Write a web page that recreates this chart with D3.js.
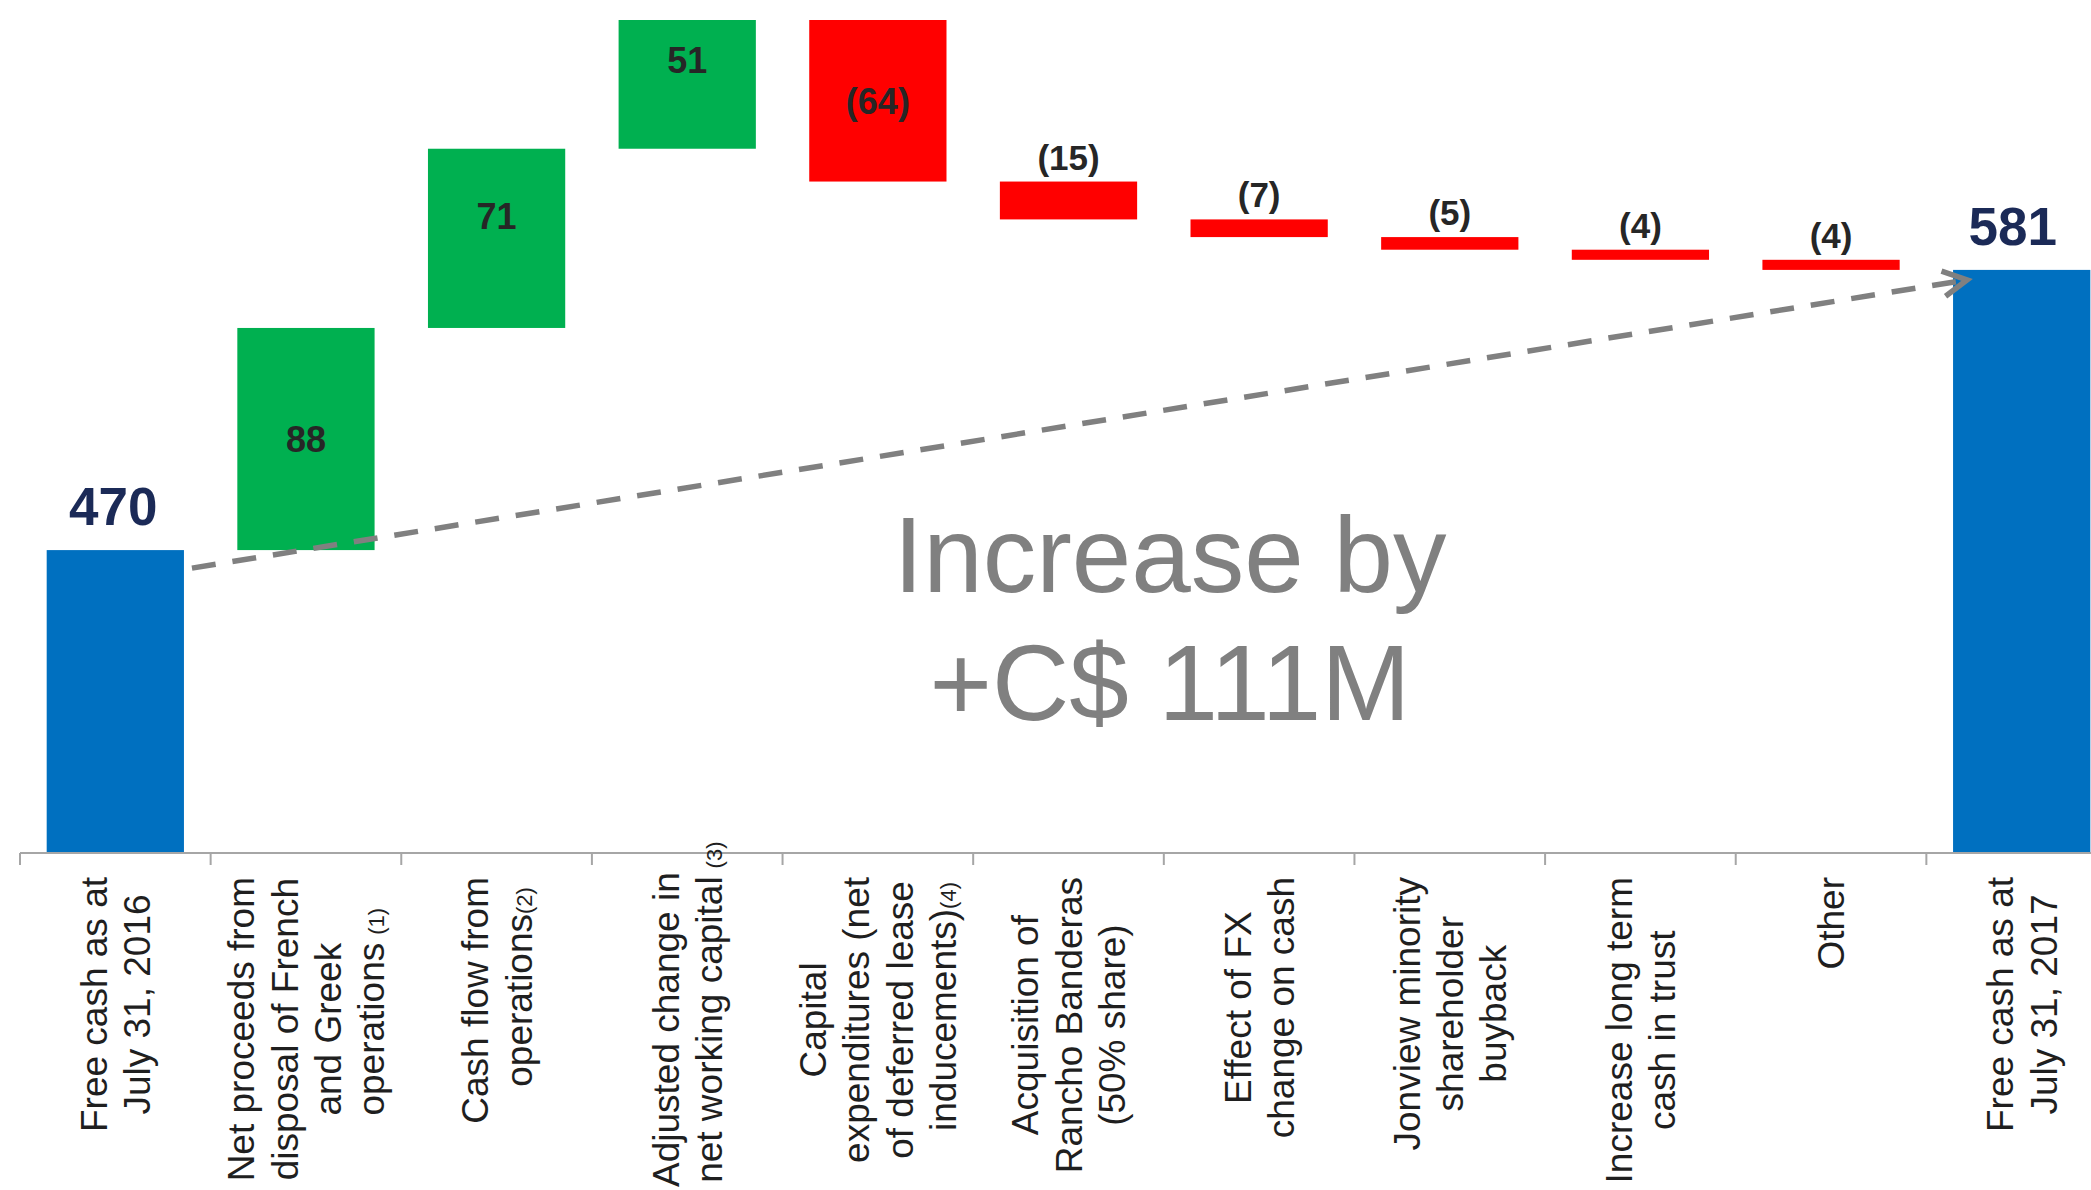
<!DOCTYPE html>
<html>
<head>
<meta charset="utf-8">
<script src="https://cdn.jsdelivr.net/npm/d3@7"></script>
<style>
  html, body { margin: 0; padding: 0; background: #fff; }
  svg { display: block; }
  text { font-family: "Liberation Sans", Arial, Helvetica, sans-serif; }
</style>
</head>
<body>
<svg id="chart" width="2091" height="1190"></svg>
<script>
// Free cash bridge, July 31 2016 -> July 31 2017 (C$ millions)
const categories = [
  "Free cash as at July 31, 2016",
  "Net proceeds from disposal of French and Greek operations (1)",
  "Cash flow from operations(2)",
  "Adjusted change in net working capital (3)",
  "Capital expenditures (net of deferred lease inducements)(4)",
  "Acquisition of Rancho Banderas (50% share)",
  "Effect of FX change on cash",
  "Jonview minority shareholder buyback",
  "Increase long term cash in trust",
  "Other",
  "Free cash as at July 31, 2017"
];

// Wrapped category labels; "^" marks a footnote reference drawn smaller
const categoryLines = [
  ["Free cash as at", "July 31, 2016"],
  ["Net proceeds from", "disposal of French", "and Greek", "operations ^(1)"],
  ["Cash flow from", "operations^(2)"],
  ["Adjusted change in", "net working capital ^(3)"],
  ["Capital", "expenditures (net", "of deferred lease", "inducements)^(4)"],
  ["Acquisition of", "Rancho Banderas", "(50% share)"],
  ["Effect of FX", "change on cash"],
  ["Jonview minority", "shareholder", "buyback"],
  ["Increase long term", "cash in trust"],
  ["Other"],
  ["Free cash as at", "July 31, 2017"]
];

const values = [470, 88, 71, 51, -64, -15, -7, -5, -4, -4, 581];
const kinds  = ["total", "delta", "delta", "delta", "delta", "delta", "delta", "delta", "delta", "delta", "total"];

const annotationLines = ["Increase by", "+C$ 111M"];

// value axis floor (the axis is truncated) and ceiling
const yFloor = 350, yCeil = 680;

// ---------------------------------------------------------------
const W = 2091, H = 1190;
const svg = d3.select("#chart");
svg.append("rect").attr("width", W).attr("height", H).attr("fill", "#fff");

const baseY = 853;
const x = d3.scaleBand()
  .domain(categories)
  .range([20, 2117])
  .paddingInner(0.28)
  .paddingOuter(0.14);
const y = d3.scaleLinear().domain([yFloor, yCeil]).range([baseY, 20]);

const colors = { total: "#0070C0", up: "#00B050", down: "#FF0000" };

// waterfall geometry
let running = 0;
const bars = values.map((v, i) => {
  const c = categories[i];
  let lo, hi, fill;
  if (kinds[i] === "total") {
    lo = yFloor; hi = v; running = v; fill = colors.total;
  } else {
    const start = running, end = running + v;
    lo = Math.min(start, end); hi = Math.max(start, end);
    running = end; fill = v >= 0 ? colors.up : colors.down;
  }
  return { c, v, kind: kinds[i], lo, hi, fill };
});

svg.append("g").selectAll("rect")
  .data(bars)
  .join("rect")
  .attr("x", d => x(d.c))
  .attr("width", x.bandwidth())
  .attr("y", d => y(d.hi))
  .attr("height", d => y(d.lo) - y(d.hi))
  .attr("fill", d => d.fill);

// x axis: baseline and category separators
const axisG = svg.append("g").attr("stroke", "#a6a6a6").attr("stroke-width", 2);
axisG.append("line")
  .attr("x1", 20).attr("x2", W).attr("y1", baseY).attr("y2", baseY);
const half = x.step() * x.paddingInner() / 2;
axisG.selectAll("line.tick")
  .data(categories)
  .join("line")
  .attr("class", "tick")
  .attr("x1", d => x(d) - half).attr("x2", d => x(d) - half)
  .attr("y1", baseY).attr("y2", baseY + 12);

// rotated category labels
const labFs = 37, supFs = 22, lineH = 43.4, labTop = 877, labBottom = 1187;
const labG = svg.append("g").attr("fill", "#1f1f1f");
categoryLines.forEach((lines, i) => {
  const cx = x(categories[i]) + x.bandwidth() / 2;
  const parsed = lines.map(s => {
    const k = s.indexOf("^");
    if (k < 0) return { main: s, sup: null, gap: 0 };
    const before = s.slice(0, k);
    return { main: before.trimEnd(), sup: s.slice(k + 1), gap: before.endsWith(" ") ? 8 : 0 };
  });
  const g = labG.append("g");
  const nodes = parsed.map(p => g.append("text")
    .attr("font-size", labFs)
    .attr("text-anchor", "middle")
    .text(p.main));
  const widths = nodes.map(n => n.node().getComputedTextLength());
  const maxW = d3.max(widths);
  const cy = Math.min(labTop + maxW / 2, labBottom - maxW / 2);
  const n = parsed.length;
  parsed.forEach((p, j) => {
    const bx = cx - (n - 1) / 2 * lineH + j * lineH + labFs * 0.716 / 2;
    nodes[j].attr("transform", `translate(${bx},${cy}) rotate(-90)`);
    if (p.sup) {
      g.append("text")
        .attr("font-size", supFs)
        .attr("text-anchor", "start")
        .attr("transform", `translate(${bx},${cy}) rotate(-90)`)
        .attr("x", widths[j] / 2 + p.gap)
        .text(p.sup);
    }
  });
});

// value labels
const fmt = v => v < 0 ? `(${Math.abs(v)})` : `${v}`;
const labelNudge = { 2: -22, 3: -24 };
const totalShift = { 0: -2, 10: -9 };
const valG = svg.append("g").attr("font-weight", "bold").attr("text-anchor", "middle");
bars.forEach((d, i) => {
  const cx = x(d.c) + x.bandwidth() / 2;
  const top = y(d.hi), bot = y(d.lo);
  if (d.kind === "total") {
    valG.append("text")
      .attr("x", cx + (totalShift[i] || 0)).attr("y", top - 25)
      .attr("font-size", 53).attr("fill", "#1b2a57")
      .text(fmt(d.v));
  } else if (bot - top > 50) {
    const fs = 36;
    valG.append("text")
      .attr("x", cx).attr("y", (top + bot) / 2 + fs * 0.358 + (labelNudge[i] || 0))
      .attr("font-size", fs).attr("fill", "#262626")
      .text(fmt(d.v));
  } else {
    valG.append("text")
      .attr("x", cx).attr("y", top - 12)
      .attr("font-size", 35).attr("fill", "#262626")
      .text(fmt(d.v));
  }
});

// dashed trend arrow from opening to closing free cash
const first = bars[0], last = bars[bars.length - 1];
const p0 = [x(first.c) + x.bandwidth() + 8, y(first.hi) + 18];
const p1 = [x(last.c) + 14, y(last.hi) + 10];
const arrowG = svg.append("g").attr("stroke", "#808080").attr("fill", "none");
arrowG.append("line")
  .attr("x1", p0[0]).attr("y1", p0[1])
  .attr("x2", p1[0] - 4).attr("y2", p1[1] + 0.6)
  .attr("stroke-width", 5.5)
  .attr("stroke-dasharray", "24 17");
const ang = Math.atan2(p1[1] - p0[1], p1[0] - p0[0]);
const headLen = 27, headAng = 28 * Math.PI / 180;
const a1 = [p1[0] - headLen * Math.cos(ang - headAng), p1[1] - headLen * Math.sin(ang - headAng)];
const a2 = [p1[0] - headLen * Math.cos(ang + headAng), p1[1] - headLen * Math.sin(ang + headAng)];
arrowG.append("path")
  .attr("d", `M${a1[0]},${a1[1]} L${p1[0]},${p1[1]} L${a2[0]},${a2[1]}`)
  .attr("stroke-width", 5.5)
  .attr("stroke-linejoin", "miter");

// headline annotation
const ann = svg.append("g").attr("fill", "#808080").attr("text-anchor", "middle").attr("font-size", 107);
annotationLines.forEach((t, i) => {
  ann.append("text").attr("x", 1170).attr("y", 592 + i * 128).text(t);
});
</script>
</body>
</html>
